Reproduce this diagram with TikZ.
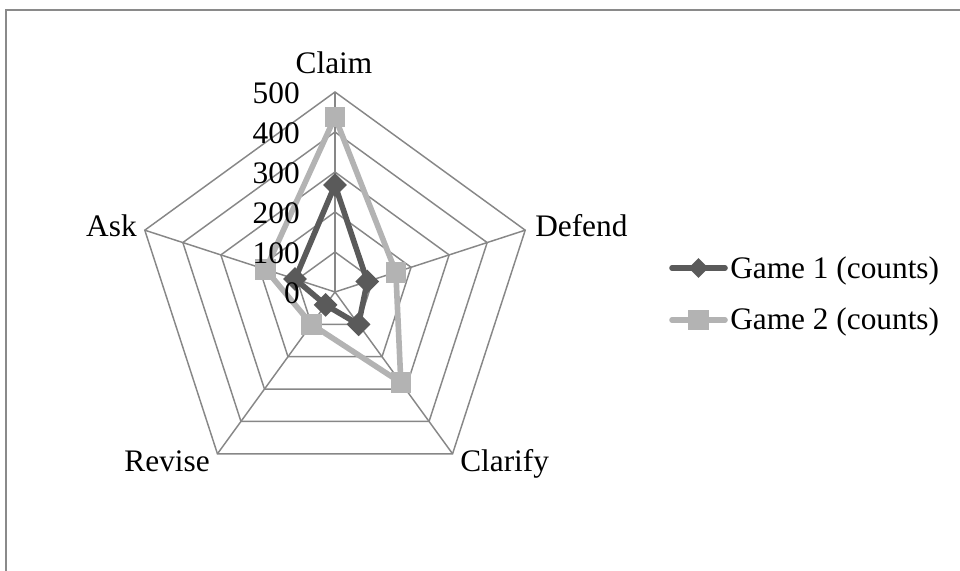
\documentclass[tikz,border=0pt]{standalone}
\usepackage{fontspec}
\setmainfont{Liberation Serif}
\usetikzlibrary{shapes.geometric}
\definecolor{gridgray}{HTML}{878787}
\definecolor{framegray}{HTML}{8A8A8A}
\definecolor{gameone}{HTML}{5A5A5A}
\definecolor{gametwo}{HTML}{B3B3B3}

\begin{document}
\begin{tikzpicture}[x=0.75pt,y=0.75pt,
  every node/.style={font=\fontsize{23.5}{28}\selectfont, inner sep=0pt},
  gridline/.style={draw=gridgray, line width=1.1pt},
  seriesone/.style={draw=gameone, line width=4.2pt, line join=round},
  seriestwo/.style={draw=gametwo, line width=4.2pt, line join=round},
  markone/.style={diamond, fill=gameone, minimum width=18pt, minimum height=18pt},
  marktwo/.style={rectangle, fill=gametwo, minimum size=15.5pt},
  ticklabel/.style={anchor=east},
]
\useasboundingbox (0,0) rectangle (960,571);

% chart frame
\draw[framegray, line width=1.2pt] (6,-5) -- (6,561) -- (975,561);

\begin{scope}[shift={(335,279)}]
  % pentagonal grid rings (100 per ring, 40 units each)
  \foreach \r in {40,80,120,160,200}
    \draw[gridline] (90:\r) -- (18:\r) -- (-54:\r) -- (-126:\r) -- (162:\r) -- cycle;
  % spokes
  \coordinate (o) at (0,0);
  \coordinate (claim) at (90:200);
  \coordinate (defend) at (18:200);
  \coordinate (clarify) at (-54:200);
  \coordinate (revise) at (-126:200);
  \coordinate (ask) at (162:200);
  \foreach \v in {claim,defend,clarify,revise,ask}
    \draw[gridline] (o) -- (\v);

  % data points (value * 0.4)
  \coordinate (a1) at (90:107);
  \coordinate (b1) at (18:34);
  \coordinate (c1) at (-54:40);
  \coordinate (d1) at (-126:16);
  \coordinate (e1) at (162:42);
  \coordinate (a2) at (90:175);
  \coordinate (b2) at (18:64);
  \coordinate (c2) at (-54:112);
  \coordinate (d2) at (-126:40);
  \coordinate (e2) at (162:73);

  % Game 1
  \draw[seriesone] (a1) -- (b1) -- (c1) -- (d1) -- (e1) -- cycle;
  \foreach \p in {a1,b1,c1,d1,e1}
    \node[markone] (m\p) at (\p) {};
  % Game 2
  \draw[seriestwo] (a2) -- (b2) -- (c2) -- (d2) -- (e2) -- cycle;
  \foreach \p in {a2,b2,c2,d2,e2}
    \node[marktwo] (m\p) at (\p) {};
\end{scope}

% value axis labels
\node[ticklabel] (t0) at (300,278) {0};
\node[ticklabel] (t1) at (300,318) {100};
\node[ticklabel] (t2) at (300,358) {200};
\node[ticklabel] (t3) at (300,398) {300};
\node[ticklabel] (t4) at (300,438) {400};
\node[ticklabel] (t5) at (300,478) {500};

% category labels
\node[anchor=base] (lclaim) at (334,497) {Claim};
\node[anchor=base west] (ldefend) at (535,334) {Defend};
\node[anchor=base east] (lask) at (137,334) {Ask};
\node[anchor=base east] (lrevise) at (210,99) {Revise};
\node[anchor=base west] (lclarify) at (460,99) {Clarify};

% legend
\coordinate (k1a) at (672,303);
\coordinate (k1b) at (725,303);
\coordinate (k2a) at (672,251);
\coordinate (k2b) at (725,251);
\draw[seriesone, line cap=round] (k1a) -- (k1b);
\node[markone, minimum width=15pt, minimum height=15pt] (k1m) at (698.5,303) {};
\node[anchor=base west] (k1t) at (730,292) {Game 1 (counts)};
\draw[seriestwo, line cap=round] (k2a) -- (k2b);
\node[marktwo] (k2m) at (698.5,251) {};
\node[anchor=base west] (k2t) at (730,241) {Game 2 (counts)};
\end{tikzpicture}
\end{document}
